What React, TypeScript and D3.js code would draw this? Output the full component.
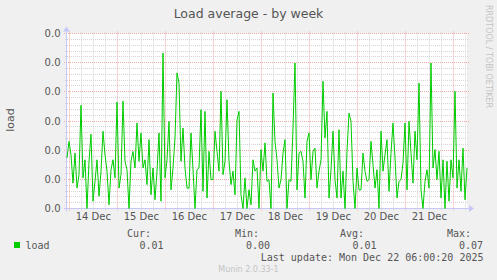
import React from "react";
import * as d3 from "d3";

const W = 497;
const H = 280;

const title = "Load average - by week";
const seriesName = "load";
const yAxisLabel = "load";
const sideText = "RRDTOOL / TOBI OETIKER";
const footer = "Munin 2.0.33-1";
const lastUpdate = "Last update: Mon Dec 22 06:00:20 2025";

const timeStart = new Date(2025, 11, 13, 22, 50);
const timeEnd = new Date(2025, 11, 22, 6, 50);
const stepHours = 1;

const yTickValues = [0, 0.01, 0.02, 0.03, 0.04, 0.05, 0.06];
const yMinorStep = 0.002;
const yMax = 0.06;

const legendHeaders = ["Cur:", "Min:", "Avg:", "Max:"];
const legendValues = ["0.01", "0.00", "0.01", "0.07"];

const loadValues = [
  0.0173, 0.0230, 0.0184, 0.0087, 0.0190, 0.0070, 0.0116, 0.0354, 0.0105, 0.0167,
  0, 0.0162, 0.0255, 0.0025, 0.0093, 0.0167, 0.0042, 0.0128, 0.0265, 0.0184,
  0.0128, 0.0013, 0.0133, 0.0167, 0.0105, 0.0365, 0.0070, 0.0116, 0.0368, 0.0162,
  0.0133, 0,
  0.0162, 0.0196, 0.0139, 0.0293, 0.0162, 0.0259, 0.0139, 0.0167, 0.0082, 0.0236,
  0.0047, 0.0139, 0.0030, 0.0128, 0.0259, 0.0025, 0.0533, 0.0105, 0.0167, 0.0299,
  0.0064, 0.0139, 0.0242, 0.0465, 0.0430, 0.0162, 0.0276, 0.0139, 0.0070, 0.0070,
  0.0259, 0.0133, 0, 0.0133,
  0.0139, 0.0339, 0.0059, 0.0333, 0.0036, 0.0196, 0.0099, 0.0099, 0.0265, 0.0196,
  0.0128, 0.0402, 0.0116, 0.0162, 0.0373, 0.0162, 0.0082, 0.0128, 0.0047, 0.0304,
  0.0333, 0.0047, 0, 0.0105, 0, 0.0064, 0.0013, 0.0167, 0.0128, 0.0139,
  0, 0.0202, 0.0128, 0.0225,
  0.0093, 0.0099, 0, 0.0396, 0.0230, 0.0167, 0.0070, 0.0099, 0.0190, 0.0236,
  0, 0.0099, 0.0093, 0.0276, 0.0499, 0.0064, 0.0190, 0.0196, 0.0162, 0.0036,
  0.0230, 0.0259, 0.0099, 0.0196, 0.0207, 0.0070, 0.0128, 0.0167, 0.0436, 0.0242,
  0.0333, 0.0036, 0.0133, 0.0265,
  0.0099, 0.0036, 0.0270, 0.0036, 0.0128, 0, 0.0196, 0.0327, 0.0299, 0.0093,
  0, 0.0139, 0.0064, 0.0064, 0.0190, 0.0128, 0.0093, 0.0099, 0.0230, 0.0150,
  0.0070, 0.0133, 0, 0.0265, 0.0128, 0.0184, 0.0236, 0.0059, 0.0190, 0.0293,
  0.0173, 0.0036, 0.0093, 0.0099,
  0.0156, 0.0293, 0.0064, 0.0299, 0.0190, 0.0087, 0.0265, 0.0167, 0.0430, 0.0064,
  0, 0.0093, 0.0133, 0.0070, 0.0499, 0.0139, 0.0202, 0.0099, 0.0196, 0.0036,
  0.0167, 0, 0.0162, 0.0025, 0.0167, 0.0105, 0.0402, 0.0070, 0.0167, 0.0059,
  0.0207, 0.0030, 0.0139,
];

// layout
const PL = 67;
const PR = 467;
const PT = 33.5;
const PB = 208.5;
const AXIS_X = 66.5;

const SANS = "DejaVu Sans, sans-serif";
const MONO = "DejaVu Sans Mono, monospace";
const TXT = "#555555";
const GRID_MINOR = "#d4d4d4";
const GRID_MAJOR = "#f4a8a8";
const AXIS_COL = "#c8c8f8";
const LINE_COL = "#00cc00";

const legendHeaderX = [127, 235, 340, 447];
const legendValueX = [139.5, 246, 352.5, 459];

const crisp = (v: number) => Math.round(v - 0.5) + 0.5;
// rrdtool-like label: one decimal, truncated
const yFmt = (v: number) => (Math.floor(v * 10 + 1e-9) / 10).toFixed(1);

export default function App() {
  const x = d3.scaleTime().domain([timeStart, timeEnd]).range([PL, PR]);
  const y = d3.scaleLinear().domain([0, yMax]).range([PB, PT]);

  const points = loadValues.map((v, i) => ({
    t: d3.timeHour.offset(timeStart, i * stepHours),
    v,
  }));
  const line = d3
    .line<{ t: Date; v: number }>()
    .x((d) => x(d.t))
    .y((d) => y(d.v));

  const sixHours = d3.timeHour
    .every(6)!
    .range(timeStart, timeEnd)
    .filter((d) => d.getHours() !== 0);
  const days = d3.timeDay.range(timeStart, timeEnd);
  const labelDays = days.filter((d) => d3.timeHour.offset(d, 12) < timeEnd);
  const fmt = d3.timeFormat("%d %b");

  const minorTicks = d3
    .range(0, yMax + 1e-9, yMinorStep)
    .filter((v) => !yTickValues.some((m) => Math.abs(m - v) < 1e-9));

  return (
    <svg
      width={W}
      height={H}
      style={{ position: "absolute", left: 0, top: 0, display: "block" }}
      xmlns="http://www.w3.org/2000/svg"
    >
      <rect x={0} y={0} width={W} height={H} fill="#f0f0f0" />
      <rect x={PL} y={PT} width={PR - PL} height={PB - PT} fill="#ffffff" />

      {minorTicks.map((v, i) => (
        <line
          key={"hm" + i}
          x1={PL - 2}
          x2={PR + 2}
          y1={crisp(y(v))}
          y2={crisp(y(v))}
          stroke={GRID_MINOR}
          strokeDasharray="1,1"
        />
      ))}
      {sixHours.map((d, i) => (
        <line
          key={"vm" + i}
          x1={crisp(x(d))}
          x2={crisp(x(d))}
          y1={PT - 2}
          y2={PB + 2}
          stroke={GRID_MINOR}
          strokeDasharray="1,1"
        />
      ))}
      {yTickValues.map((v, i) => (
        <line
          key={"hM" + i}
          x1={PL - 3}
          x2={PR + 2}
          y1={crisp(y(v))}
          y2={crisp(y(v))}
          stroke={GRID_MAJOR}
          strokeDasharray="1,1"
        />
      ))}
      {days.map((d, i) => (
        <line
          key={"vM" + i}
          x1={crisp(x(d))}
          x2={crisp(x(d))}
          y1={PT - 2}
          y2={PB + 3}
          stroke={GRID_MAJOR}
          strokeDasharray="1,1"
        />
      ))}

      <line x1={PL - 3} x2={PR + 3} y1={PB} y2={PB} stroke={AXIS_COL} />
      <path d={`M${PR + 2},${PB - 3.5} L${PR + 7},${PB} L${PR + 2},${PB + 3.5} Z`} fill={AXIS_COL} />
      <line x1={AXIS_X} x2={AXIS_X} y1={PB + 3} y2={PT - 3} stroke={AXIS_COL} />
      <path d={`M${AXIS_X - 3.5},${PT - 2} L${AXIS_X},${PT - 7} L${AXIS_X + 3.5},${PT - 2} Z`} fill={AXIS_COL} />

      <path d={line(points) || ""} fill="none" stroke={LINE_COL} strokeWidth={1} />

      {yTickValues.map((v, i) => (
        <text
          key={"yl" + i}
          x={60.5}
          y={y(v) + 3.6}
          textAnchor="end"
          fontFamily={SANS}
          fontSize={10}
          fill={TXT}
        >
          {yFmt(v)}
        </text>
      ))}
      {labelDays.map((d, i) => (
        <text
          key={"xl" + i}
          x={x(d3.timeHour.offset(d, 12))}
          y={220}
          textAnchor="middle"
          fontFamily={SANS}
          fontSize={10}
          fill={TXT}
        >
          {fmt(d)}
        </text>
      ))}

      <text x={W / 2} y={17.5} textAnchor="middle" fontFamily={SANS} fontSize={12.5} fill={TXT}>
        {title}
      </text>
      <text
        transform="translate(14,120) rotate(-90)"
        textAnchor="middle"
        fontFamily={SANS}
        fontSize={11}
        fill={TXT}
      >
        {yAxisLabel}
      </text>
      <text
        transform="translate(486,5) rotate(90)"
        textAnchor="start"
        fontFamily={SANS}
        fontSize={8}
        fill="#c4c4c4"
      >
        {sideText}
      </text>

      {legendHeaders.map((h, i) => (
        <text key={"lh" + i} x={legendHeaderX[i]} y={236.7} fontFamily={MONO} fontSize={10} fill={TXT}>
          {h}
        </text>
      ))}
      <rect x={14} y={242} width={6} height={6} fill={LINE_COL} />
      <text x={25.5} y={249.3} fontFamily={MONO} fontSize={10} fill={TXT}>
        {seriesName}
      </text>
      {legendValues.map((v, i) => (
        <text key={"lv" + i} x={legendValueX[i]} y={249.3} fontFamily={MONO} fontSize={10} fill={TXT}>
          {v}
        </text>
      ))}
      <text x={483.5} y={260.7} textAnchor="end" fontFamily={MONO} fontSize={10} fill={TXT}>
        {lastUpdate}
      </text>
      <text x={W / 2} y={272.3} textAnchor="middle" fontFamily={SANS} fontSize={8} fill="#c4c4c4">
        {footer}
      </text>
    </svg>
  );
}
